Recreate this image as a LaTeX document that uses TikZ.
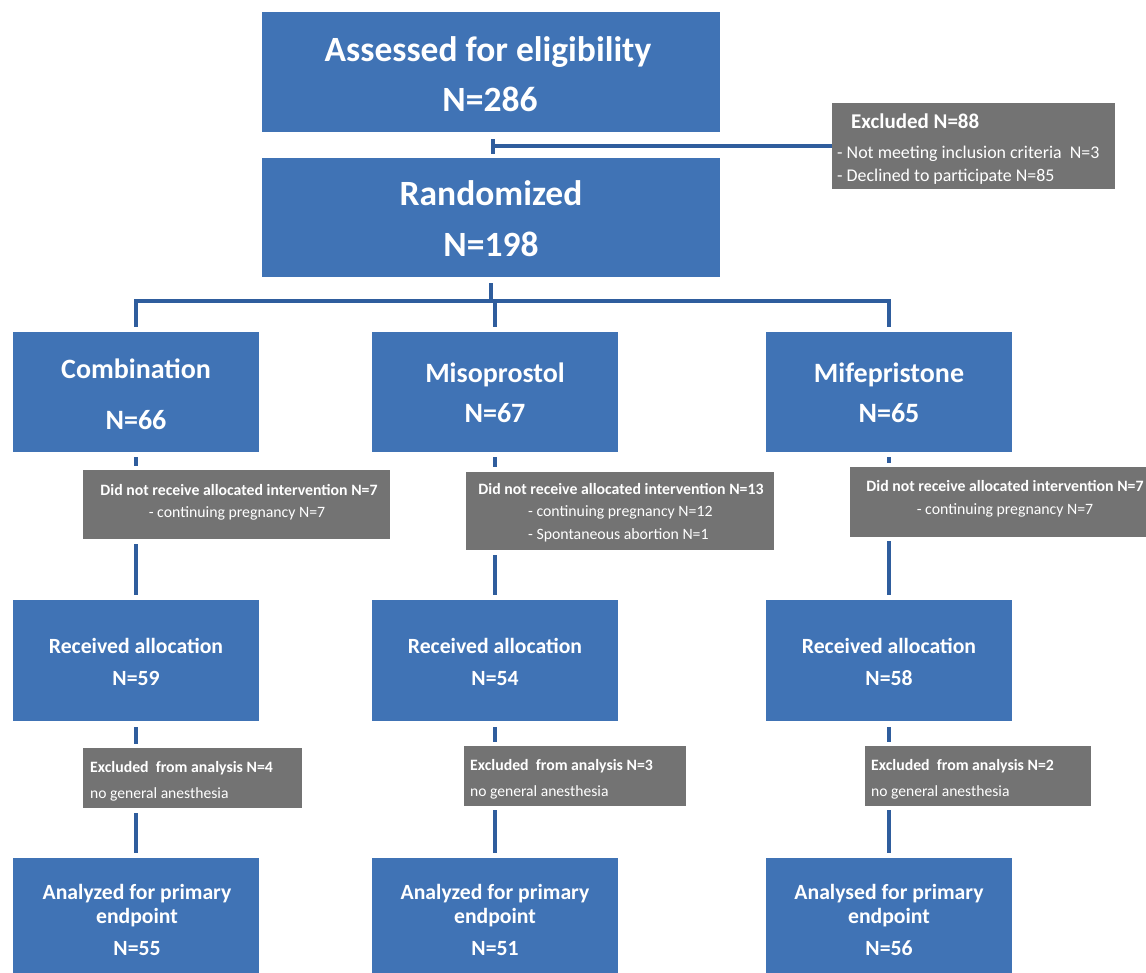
\documentclass[tikz,border=0pt]{standalone}
\usepackage{fontspec}
\setmainfont{Carlito}
\usetikzlibrary{arrows.meta}
\definecolor{boxblue}{RGB}{64,115,181}
\definecolor{boxgray}{RGB}{115,115,115}
\definecolor{linkblue}{RGB}{47,93,157}
\begin{document}
\begin{tikzpicture}[x=1pt,y=-1pt,
  bluebox/.style={fill=boxblue, draw=none, inner sep=0pt, anchor=north west},
  graybox/.style={fill=boxgray, draw=none, inner sep=0pt, anchor=north west},
  txt/.style={text=white, inner sep=0pt, anchor=base},
  txtw/.style={text=white, inner sep=0pt, anchor=base west},
  bigf/.style={font=\fontsize{35.5}{40}\selectfont\bfseries},
  midf/.style={font=\fontsize{28}{32}\selectfont\bfseries},
  recf/.style={font=\fontsize{21.7}{25}\selectfont\bfseries},
  exbf/.style={font=\fontsize{21}{24}\selectfont\bfseries},
  exrf/.style={font=\fontsize{17.9}{20}\selectfont},
  gbf/.style={font=\fontsize{15.8}{18}\selectfont\bfseries},
  grf/.style={font=\fontsize{15.8}{18}\selectfont},
  sbf/.style={font=\fontsize{15.8}{18}\selectfont\bfseries},
  srf/.style={font=\fontsize{15.6}{18}\selectfont},
  conn/.style={draw=linkblue, line width=4pt}]
\useasboundingbox (0,0) rectangle (1146,973);

% ---------- boxes ----------
\node[bluebox, minimum width=458pt, minimum height=120pt] (assess) at (262,12) {};
\node[bluebox, minimum width=458pt, minimum height=119pt] (rand) at (262,158) {};
\node[graybox, minimum width=283pt, minimum height=86pt] (excl) at (832,103) {};

\node[bluebox, minimum width=246pt, minimum height=120pt] (comb) at (13,332) {};
\node[bluebox, minimum width=246pt, minimum height=120pt] (miso) at (372,332) {};
\node[bluebox, minimum width=246pt, minimum height=120pt] (mife) at (766,332) {};

\node[graybox, minimum width=307pt, minimum height=69pt] (g1) at (83,470) {};
\node[graybox, minimum width=308pt, minimum height=78pt] (g2) at (466,472) {};
\node[graybox, minimum width=310pt, minimum height=70pt] (g3) at (850,467) {};

\node[bluebox, minimum width=246pt, minimum height=121pt] (recv1) at (13,600) {};
\node[bluebox, minimum width=246pt, minimum height=121pt] (recv2) at (372,600) {};
\node[bluebox, minimum width=246pt, minimum height=121pt] (recv3) at (766,600) {};

\node[graybox, minimum width=219pt, minimum height=60pt] (ex1) at (83,748) {};
\node[graybox, minimum width=222pt, minimum height=60pt] (ex2) at (464,746) {};
\node[graybox, minimum width=226pt, minimum height=60pt] (ex3) at (865,746) {};

\node[bluebox, minimum width=246pt, minimum height=122pt] (ana1) at (13,858) {};
\node[bluebox, minimum width=246pt, minimum height=122pt] (ana2) at (372,858) {};
\node[bluebox, minimum width=246pt, minimum height=122pt] (ana3) at (766,858) {};

% ---------- texts ----------
\node[txt, bigf] (assessA) at (488,62) {Assessed for eligibility};
\node[txt, bigf] (assessB) at (490,112) {N=286};
\node[txt, bigf] (randA) at (491,206) {Randomized};
\node[txt, bigf] (randB) at (491,257) {N=198};

\node[txtw, exbf] (exclA) at (851,129) {Excluded N=88};
\node[txtw, exrf] (exclB) at (837,159) {- Not meeting inclusion criteria\ \ N=3};
\node[txtw, exrf] (exclC) at (837,182) {- Declined to participate N=85};

\node[txt, midf] (combA) at (136,379) {Combination};
\node[txt, midf] (combB) at (136,429) {N=66};
\node[txt, midf] (misoA) at (495,383) {Misoprostol};
\node[txt, midf] (misoB) at (495,422) {N=67};
\node[txt, midf] (mifeA) at (889,383) {Mifepristone};
\node[txt, midf] (mifeB) at (889,422) {N=65};

\node[txt, gbf] (g1A) at (239,495) {Did not receive allocated intervention N=7};
\node[txt, grf] (g1B) at (237,517) {- continuing pregnancy N=7};
\node[txt, gbf] (g2A) at (621,494) {Did not receive allocated intervention N=13};
\node[txtw, grf] (g2B) at (528,516) {- continuing pregnancy N=12};
\node[txtw, grf] (g2C) at (528,539) {- Spontaneous abortion N=1};
\node[txt, gbf] (g3A) at (1005,491) {Did not receive allocated intervention N=7};
\node[txt, grf] (g3B) at (1005,514) {- continuing pregnancy N=7};

\node[txt, recf] (r1A) at (136,653) {Received allocation};
\node[txt, recf] (r1B) at (136,685) {N=59};
\node[txt, recf] (r2A) at (495,653) {Received allocation};
\node[txt, recf] (r2B) at (495,685) {N=54};
\node[txt, recf] (r3A) at (889,653) {Received allocation};
\node[txt, recf] (r3B) at (889,685) {N=58};

\node[txtw, sbf] (e1A) at (90,772) {Excluded\ \ from analysis N=4};
\node[txtw, srf] (e1B) at (90,798) {no general anesthesia};
\node[txtw, sbf] (e2A) at (470,770) {Excluded\ \ from analysis N=3};
\node[txtw, srf] (e2B) at (470,796) {no general anesthesia};
\node[txtw, sbf] (e3A) at (871,770) {Excluded\ \ from analysis N=2};
\node[txtw, srf] (e3B) at (871,796) {no general anesthesia};

\node[txt, recf] (a1A) at (137,899) {Analyzed for primary};
\node[txt, recf] (a1B) at (137,923) {endpoint};
\node[txt, recf] (a1C) at (137,955) {N=55};
\node[txt, recf] (a2A) at (495,899) {Analyzed for primary};
\node[txt, recf] (a2B) at (495,923) {endpoint};
\node[txt, recf] (a2C) at (495,955) {N=51};
\node[txt, recf] (a3A) at (889,899) {Analysed for primary};
\node[txt, recf] (a3B) at (889,923) {endpoint};
\node[txt, recf] (a3C) at (889,955) {N=56};

% ---------- connectors ----------
\draw[conn, -{Bar[width=15pt]}] (excl.west) -- (excl.west -| assess.south);

\coordinate (hub) at (492,301);
\draw[conn, shorten <=6pt] (rand.south) -- (rand.south |- hub);
\draw[conn, shorten <=5pt, shorten >=5pt] (comb.north) -- (comb.north |- hub) -- (mife.north |- hub) -- (mife.north);
\draw[conn, shorten >=5pt] (miso.north |- hub) -- (miso.north);

\draw[conn, shorten <=5pt, shorten >=4pt] (comb.south) -- (comb.south |- g1.north);
\draw[conn, shorten <=5pt, shorten >=5pt] (comb.south |- g1.south) -- (recv1.north);
\draw[conn, shorten <=5pt, shorten >=5pt] (miso.south) -- (miso.south |- g2.north);
\draw[conn, shorten <=5pt, shorten >=5pt] (miso.south |- g2.south) -- (recv2.north);
\draw[conn, shorten <=5pt, shorten >=4pt] (mife.south) -- (mife.south |- g3.north);
\draw[conn, shorten <=4pt, shorten >=5pt] (mife.south |- g3.south) -- (recv3.north);

\draw[conn, shorten <=6pt, shorten >=4pt] (recv1.south) -- (recv1.south |- ex1.north);
\draw[conn, shorten <=5pt, shorten >=5pt] (recv1.south |- ex1.south) -- (ana1.north);
\draw[conn, shorten <=6pt, shorten >=4pt] (recv2.south) -- (recv2.south |- ex2.north);
\draw[conn, shorten <=4pt, shorten >=5pt] (recv2.south |- ex2.south) -- (ana2.north);
\draw[conn, shorten <=6pt, shorten >=4pt] (recv3.south) -- (recv3.south |- ex3.north);
\draw[conn, shorten <=4pt, shorten >=5pt] (recv3.south |- ex3.south) -- (ana3.north);
\end{tikzpicture}
\end{document}
